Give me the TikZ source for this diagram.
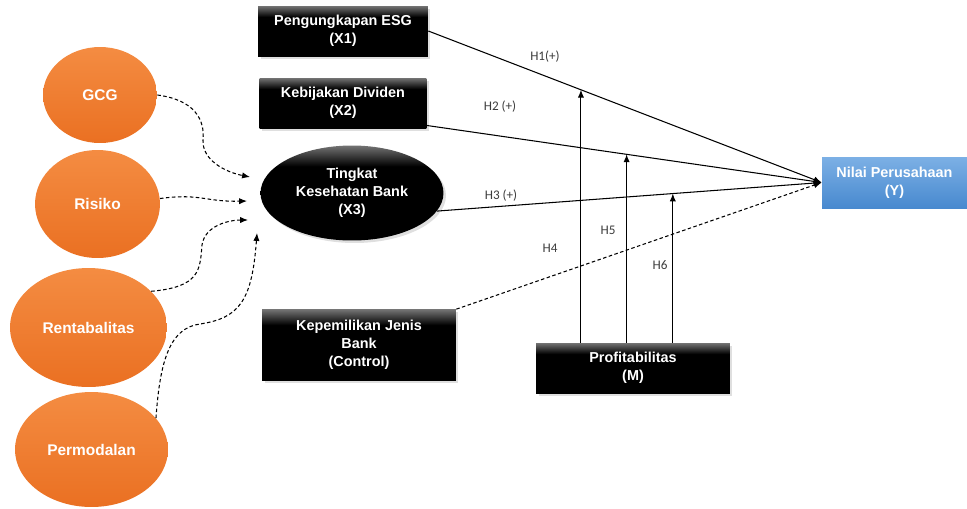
\documentclass[tikz,border=0pt]{standalone}
\usepackage{fontspec}
\setmainfont{Liberation Sans}
\newfontfamily\hfont{Carlito}
\usetikzlibrary{arrows.meta,shapes.geometric,shadows}
\definecolor{orgtop}{RGB}{244,140,66}
\definecolor{orgbot}{RGB}{234,112,34}
\definecolor{bluetop}{RGB}{124,176,229}
\definecolor{bluebot}{RGB}{72,137,207}
\definecolor{hgray}{RGB}{60,60,60}
\pgfdeclareverticalshading{blackgrad}{100bp}{color(0bp)=(black); color(64bp)=(black); color(75bp)=(black!55); color(100bp)=(black!55)}

\begin{document}
\begin{tikzpicture}[x=0.02cm, y=-0.02cm,
    blackbox/.style={rectangle, shading=blackgrad, text=white,
      font=\fontsize{8.2}{10.2}\selectfont\bfseries, align=center, inner sep=0pt,
      drop shadow={opacity=0.25, shadow xshift=0.05cm, shadow yshift=-0.05cm}},
    orgball/.style={ellipse, top color=orgtop, bottom color=orgbot, text=white,
      font=\fontsize{8.8}{10.6}\selectfont\bfseries, inner sep=0pt},
    hlabel/.style={font=\hfont\fontsize{7.5}{9}\selectfont, text=hgray},
    path/.style={line width=0.6pt, -{Latex[length=4.5pt,width=3.6pt]}},
    dpath/.style={path, dash pattern=on 2pt off 1.4pt}]
  \useasboundingbox (0,0) rectangle (967,508);

  \node[orgball, minimum width=2.28cm, minimum height=1.92cm] (gcg) at (100,95) {GCG};
  \node[orgball, minimum width=2.5cm, minimum height=2.16cm] (risiko) at (97.5,204) {Risiko};
  \node[orgball, minimum width=3.14cm, minimum height=2.38cm] (rent) at (88.5,327.5) {Rentabalitas};
  \node[orgball, minimum width=3.06cm, minimum height=2.3cm] (perm) at (91.5,449.5) {Permodalan};

  \node[blackbox, minimum width=3.4cm, minimum height=1.0cm] (x1) at (343,31) {Pengungkapan ESG\\(X1)};
  \node[blackbox, minimum width=3.34cm, minimum height=1.0cm] (x2) at (343,103) {Kebijakan Dividen\\(X2)};
  \node[blackbox, ellipse, minimum width=3.66cm, minimum height=1.9cm] (x3) at (352,193) {Tingkat\\Kesehatan Bank\\(X3)};
  \node[blackbox, minimum width=3.88cm, minimum height=1.42cm] (ctrl) at (359,345) {Kepemilikan Jenis\\Bank\\(Control)};
  \node[blackbox, minimum width=3.88cm, minimum height=1.0cm] (prof) at (633,368) {Profitabilitas\\(M)};
  \node[rectangle, top color=bluetop, bottom color=bluebot, text=white, align=center, inner sep=0pt,
    font=\fontsize{8.2}{10.2}\selectfont\bfseries, minimum width=2.9cm, minimum height=1.02cm]
    (y) at (894.5,182.5) {Nilai Perusahaan\\(Y)};

  \coordinate (e1) at (250,177);
  \coordinate (e2) at (247,201);
  \coordinate (e3) at (248,220);
  \coordinate (e4) at (257,233);

  \draw[dpath] (gcg.east) .. controls (195,100) and (205,120) .. (203,140)
    .. controls (202,160) and (225,172) .. (e1);
  \draw[dpath] (risiko.5) .. controls (200,193) and (205,202) .. (e2);
  \draw[dpath] (rent.30) .. controls (200,287) and (200,270) .. (202,245)
    .. controls (205,225) and (230,220) .. (e3);
  \draw[dpath] (perm.26) .. controls (160,360) and (170,328) .. (200,324)
    .. controls (240,318) and (252,300) .. (e4);

  \draw[path] (x1.east) -- (y.west) coordinate[pos=0.388] (m1);
  \draw[path] (x2.-15) -- (y.west) coordinate[pos=0.506] (m2);
  \draw[path] (x3.-12) -- (y.west) coordinate[pos=0.613] (m3);
  \draw[dpath] (ctrl.north east) -- (y.west);

  \draw[path] (prof.north -| m1) -- (m1);
  \draw[path] (prof.north -| m2) -- (m2);
  \draw[path] (prof.north -| m3) -- (m3);

  \node[hlabel] at (545,57) {H1(+)};
  \node[hlabel] at (500,107) {H2 (+)};
  \node[hlabel] at (501,196) {H3 (+)};
  \node[hlabel] at (550,248) {H4};
  \node[hlabel] at (608,230) {H5};
  \node[hlabel] at (660,265) {H6};
\end{tikzpicture}
\end{document}
